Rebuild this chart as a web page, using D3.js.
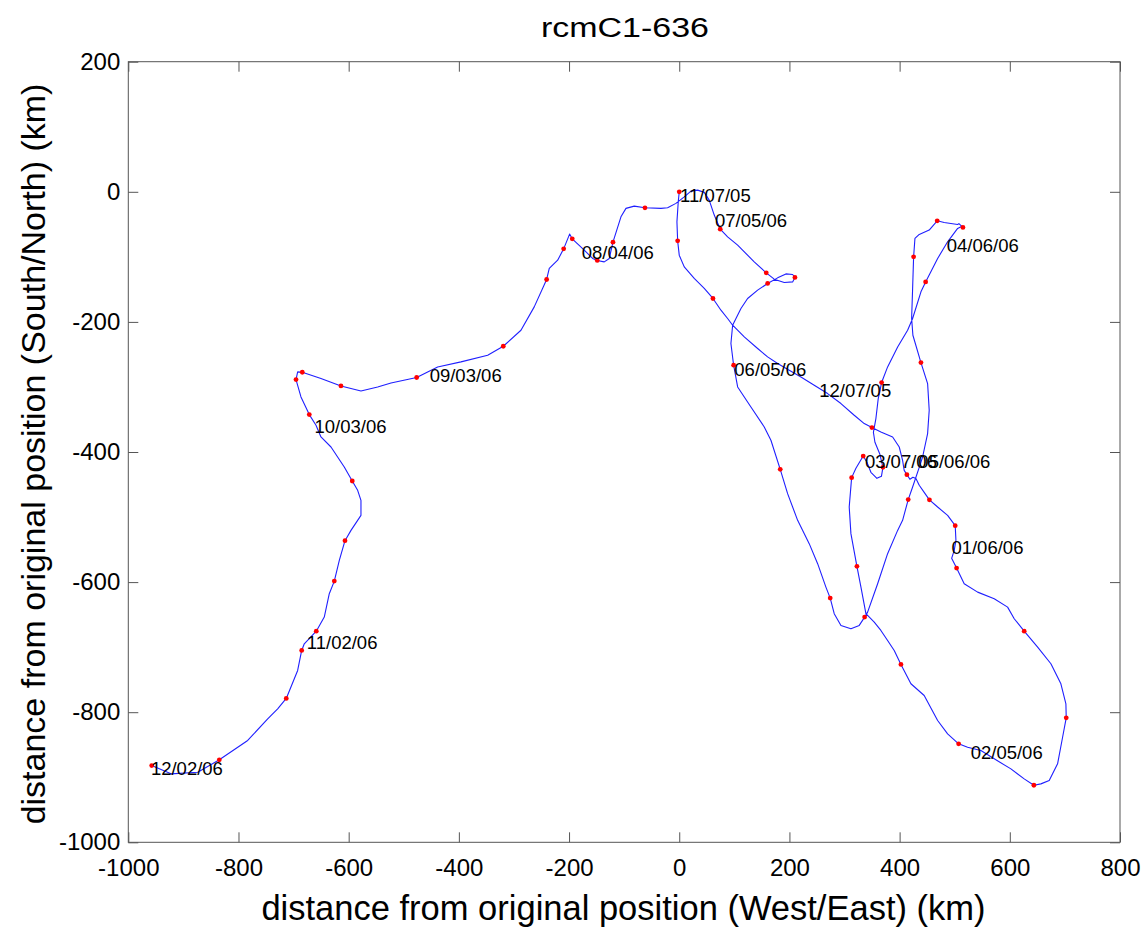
<!DOCTYPE html>
<html><head><meta charset="utf-8">
<script src="https://cdn.jsdelivr.net/npm/d3@7"></script>
<style>
body{margin:0;background:#fff}
text{font-family:"Liberation Sans",Arial,Helvetica,sans-serif;fill:#000}
</style>
</head><body>
<svg id="chart" width="1147" height="931"></svg>
<script>
const chartTitle = "rcmC1-636";
const xLabel = "distance from original position (West/East) (km)";
const yLabel = "distance from original position (South/North) (km)";
const xTicks = [-1000,-800,-600,-400,-200,0,200,400,600,800];
const yTicks = [-1000,-800,-600,-400,-200,0,200];

const trackX = [0,-1.8,-4.2,-2.9,0,9.1,27.2,45.4,61.2,75.7,87.8,96.9,118,142.3,160.4,178.6,199.6,220.9,245,269.3,293.5,317.6,335.8,349.7,366,387.3,399.3,405.4,408.3,413.2,418.7,424.1,429.6,435.6,444.6,454.1,469,487.1,500.9,502.2,499.1,494.4,503.4,517.2,541.6,571.7,596,608,626.1,650.5,674.6,692.7,701.8,702.4,695.8,686.7,671.5,656.4,643.7,626.1,602,571.7,547.5,523.4,507.1,487.1,469,444.6,420.5,402.4,390.2,378.2,366,353.9,338.8,329.8,322.5,311.6,308.5,312.9,320.7,333.9,340.6,347.9,358.8,367,369.7,364.2,355.2,352.4,357,361.2,367.3,378.2,396.4,414.5,423.6,438.7,447.2,469,487.1,505.3,513.1,514.9,507.6,505.3,480.9,468.2,453.7,435.6,427.8,425.4,423.6,421.8,424.1,438.7,450.8,453.7,450.8,441.7,435,423.6,415.6,405.4,396.4,378.2,360.1,341.9,336.5,326.7,311.6,293.5,281.3,274,266.2,251.2,235.9,214.9,196.7,183.3,166.4,154.3,130.1,106,98.7,93.8,96.9,99.8,112,124.1,142.3,160.4,178.6,193.6,205.8,210,205.8,190.6,172.4,157.9,136.1,106,87.8,74.4,63.5,54.4,45.4,33.4,21.2,9.1,-6,-21.1,-33.2,-62.2,-81.7,-96.7,-105.8,-120.3,-127,-136.1,-148.8,-157.2,-172.4,-194.2,-199,-209.8,-220.7,-235.9,-240.7,-263.2,-287.3,-319.4,-347.7,-396.2,-438.5,-476.6,-523.2,-547.4,-577.7,-614,-650.3,-684.2,-692.6,-695.6,-686.6,-671.5,-659.3,-650.3,-632.1,-608,-593.5,-583.7,-577.7,-577.7,-595.8,-606.7,-617,-626.1,-635.2,-644.3,-658.8,-680.6,-685.3,-692.6,-713.3,-728.9,-747,-783.3,-834.8,-874,-922.5,-957.5];
const trackY = [0,-15.4,-46.2,-75.4,-97.4,-115.4,-133.2,-148.6,-164,-182,-194.8,-205.1,-223.1,-240.9,-253.8,-264,-274.3,-284.6,-297.4,-310.2,-325.5,-343.5,-356.3,-362.5,-369.2,-376.9,-392.3,-412.8,-428.2,-434.8,-442,-438.9,-440.9,-451.2,-462,-473.5,-484.6,-497.4,-513.2,-535.8,-551.2,-563.5,-578.5,-602.5,-615.4,-625.5,-638.5,-656.3,-675.4,-700,-725.5,-756.3,-787.1,-808.6,-838.5,-879.4,-905.1,-910.2,-912.3,-902.5,-887.1,-871.7,-858.9,-853.8,-848.6,-833.2,-812.8,-774.3,-756.3,-726.6,-705.1,-689.7,-674.3,-661.5,-648.6,-607.7,-575.8,-525.5,-484.6,-439.4,-425.1,-406.2,-415.8,-431.2,-440.5,-437.4,-423.5,-403.5,-385,-369.7,-348.2,-317.8,-293.2,-269.2,-238.5,-212.8,-194.8,-153.8,-138.5,-102.5,-76.9,-56.3,-52.8,-54.8,-48.9,-50.2,-47.1,-44.6,-58.9,-65.5,-71.7,-100,-148.2,-194.8,-220.5,-262.5,-294.8,-335.8,-371.7,-407.7,-425.1,-453.8,-473.2,-505.1,-520.5,-556.3,-602.5,-646.2,-653.8,-666.6,-671.7,-666.6,-648.6,-624.6,-607.7,-571.7,-540.9,-505.1,-464,-426.6,-382,-361.5,-330.8,-300,-266.6,-233.2,-205.1,-200,-179.4,-164,-151.2,-140.9,-132.3,-126.2,-127.1,-131.7,-138.5,-139.4,-134.3,-124.6,-107.7,-82,-69.2,-57.4,-35.8,-12.8,-0.9,2.6,1.1,-7.7,-17.8,-24.6,-25.5,-24.6,-22,-25.5,-38.5,-77.4,-102.5,-107.7,-105.5,-102.5,-89.7,-72.3,-65,-87.7,-105.1,-117.8,-134.8,-176.9,-212.8,-237.4,-251.2,-261.5,-269.2,-285.5,-293.8,-300,-306.2,-298.5,-287.1,-277.4,-276.9,-288.6,-315.4,-342.5,-358.9,-376.9,-392.3,-423.1,-444.6,-458.9,-474.3,-497.4,-520.5,-536.3,-566.6,-598.5,-617.8,-653.8,-675.4,-694.8,-705.1,-735.8,-778.9,-794.8,-810.2,-843.5,-873.2,-892.3,-894.8,-882];

const markerX = [0,-2.9,61.2,349.7,413.2,454.1,500.9,503.4,626.1,702.4,643.7,507.1,402.4,322.5,312.9,333.9,369.7,367.3,447.2,514.9,468.2,425.4,438.7,415.6,336.5,274,183.3,98.7,160.4,210,157.9,74.4,-62.2,-120.3,-148.8,-194.2,-209.8,-240.7,-319.4,-476.6,-614,-684.2,-695.6,-671.5,-593.5,-606.7,-626.1,-658.8,-685.3,-713.3,-834.8,-957.5];
const markerY = [0,-75.4,-164,-362.5,-434.8,-473.5,-513.2,-578.5,-675.4,-808.6,-912.3,-848.6,-726.6,-575.8,-439.4,-406.2,-423.5,-293.2,-138.5,-54.8,-44.6,-100,-262.5,-473.2,-653.8,-624.6,-426.6,-266.6,-140.9,-131.7,-124.6,-57.4,-24.6,-77.4,-105.5,-72.3,-87.7,-134.8,-237.4,-285.5,-298.5,-277.4,-288.6,-342.5,-444.6,-536.3,-598.5,-675.4,-705.1,-778.9,-873.2,-882];

const labelText = ["11/07/05","12/07/05","01/06/06","02/05/06","03/07/06","04/06/06","05/06/06","06/05/06","07/05/06","08/04/06","09/03/06","10/03/06","11/02/06","12/02/06"];
const labelX = [1.5,254,494,529,337,485.5,434,100,65,-177,-453,-662,-676,-959];
const labelY = [-6.2,-305,-547,-861.5,-414.3,-82,-414.3,-272.8,-43.5,-92.8,-282.5,-361.5,-692.3,-887];

(function draw() {
  const svg = d3.select("#chart");
  const W = 1147, H = 931;
  svg.append("rect").attr("width", W).attr("height", H).attr("fill", "#fff");

  const pLeft = 128.3, pRight = 1120, pTop = 61.7, pBottom = 842.3;
  const x = d3.scaleLinear().domain([-1000, 800]).range([pLeft, pRight]);
  const y = d3.scaleLinear().domain([-1000, 200]).range([pBottom, pTop]);

  const axisColor = "#555";
  const tickLen = 10;

  const pts = trackX.map((v, i) => [v, trackY[i]]);
  const line = d3.line().x(d => x(d[0])).y(d => y(d[1]));
  svg.append("path").datum(pts).attr("d", line)
    .attr("fill", "none").attr("stroke", "#1f1fff").attr("stroke-width", 1.1)
    .attr("stroke-linejoin", "round");

  svg.append("g").selectAll("circle").data(markerX.map((v, i) => [v, markerY[i]]))
    .join("circle").attr("cx", d => x(d[0])).attr("cy", d => y(d[1]))
    .attr("r", 2.4).attr("fill", "#ff0000");

  svg.append("g").selectAll("text").data(labelText)
    .join("text").attr("x", (d, i) => x(labelX[i])).attr("y", (d, i) => y(labelY[i]))
    .attr("dominant-baseline", "central").attr("font-size", 18.5).text(d => d);

  const gx = svg.append("g").attr("transform", `translate(0,${pBottom})`)
    .call(d3.axisBottom(x).tickValues(xTicks).tickSize(-tickLen).tickPadding(17).tickFormat(d => String(d)));
  const gxt = svg.append("g").attr("transform", `translate(0,${pTop})`)
    .call(d3.axisTop(x).tickValues(xTicks).tickSize(-tickLen).tickFormat(""));
  const gy = svg.append("g").attr("transform", `translate(${pLeft},0)`)
    .call(d3.axisLeft(y).tickValues(yTicks).tickSize(-tickLen).tickPadding(8).tickFormat(d => String(d)));
  const gyr = svg.append("g").attr("transform", `translate(${pRight},0)`)
    .call(d3.axisRight(y).tickValues(yTicks).tickSize(-tickLen).tickFormat(""));

  [gx, gxt, gy, gyr].forEach(g => {
    g.select(".domain").remove();
    g.selectAll(".tick line").attr("stroke", axisColor).attr("stroke-width", 1);
    g.selectAll(".tick text").attr("font-size", 24).attr("fill", "#000")
      .attr("font-family", '"Liberation Sans",Arial,Helvetica,sans-serif');
  });

  svg.append("rect").attr("x", pLeft).attr("y", pTop)
    .attr("width", pRight - pLeft).attr("height", pBottom - pTop)
    .attr("fill", "none").attr("stroke", axisColor).attr("stroke-width", 1);

  svg.append("text").attr("x", 625).attr("y", 37)
    .attr("text-anchor", "middle").attr("font-size", 27)
    .attr("textLength", 168).attr("lengthAdjust", "spacingAndGlyphs").text(chartTitle);
  svg.append("text").attr("x", 623.5).attr("y", 920)
    .attr("text-anchor", "middle").attr("font-size", 34.5).text(xLabel);
  svg.append("text").attr("transform", `translate(45,454) rotate(-90)`)
    .attr("text-anchor", "middle").attr("font-size", 34).text(yLabel);
})();
</script>
</body></html>
